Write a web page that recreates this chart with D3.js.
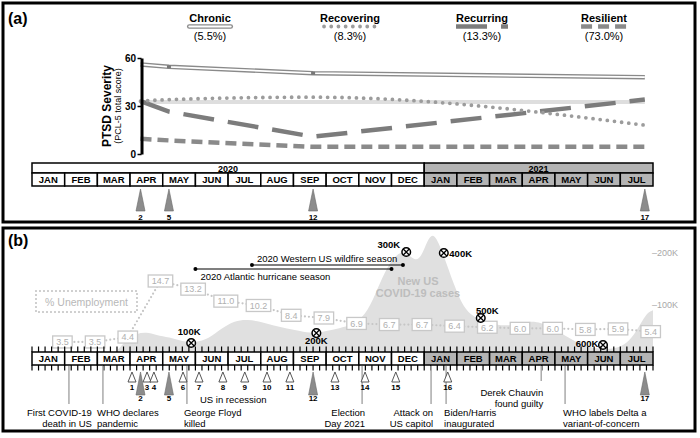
<!DOCTYPE html>
<html><head><meta charset="utf-8">
<script src="https://cdn.jsdelivr.net/npm/d3@7"></script>
<style>
body{margin:0;background:#fff;}
svg{font-family:"Liberation Sans",Arial,Helvetica,sans-serif;}
</style></head><body>
<svg id="c" width="700" height="438"></svg>
<script>
// ---------------- DATA ----------------
const months = ["JAN","FEB","MAR","APR","MAY","JUN","JUL","AUG","SEP","OCT","NOV","DEC","JAN","FEB","MAR","APR","MAY","JUN","JUL"];
const years = ["2020","2021"];
const yearStart = [0, 12];
const yearEnd = [12, 19];
// assessment timing (months since Jan 1 2020), assessments 1..17
const assessmentPos = [3.06,3.32,3.52,3.73,4.19,4.62,5.11,5.84,6.51,7.19,7.89,8.6,9.27,10.19,11.13,12.72,18.75];
const keyAssessments = [2,5,12,17];
// PTSD trajectories (PCL-5) at key assessments 2,5,12,17
const trajNames = ["Chronic","Recovering","Recurring","Resilient"];
const trajPct = ["(5.5%)","(8.3%)","(13.3%)","(73.0%)"];
const chronic = [56,54.5,50.5,48];
const recovering = [33,34,35.5,18];
const recurring = [33,26.5,10.8,34];
const resilient = [9.5,8.5,4.5,4.5];
const cutoff = 32.5;
const yTicks = [0,30,60];
// monthly unemployment %
const unemployment = [3.5,3.5,4.4,14.7,13.2,11.0,10.2,8.4,7.9,6.9,6.7,6.7,6.4,6.2,6.0,6.0,5.8,5.9,5.4];
// new US COVID-19 cases (thousands, 7-day avg) by month index
const casesT = [0,1,2,2.3,2.6,2.9,3.2,3.5,3.8,4.2,4.6,5.0,5.4,5.8,6.2,6.6,7.0,7.4,7.8,8.2,8.6,9.0,9.4,9.8,10.2,10.5,10.8,11.1,11.4,11.7,11.9,12.1,12.3,12.6,12.9,13.2,13.5,13.8,14.2,14.6,15.0,15.4,15.8,16.2,16.6,17.0,17.4,17.8,18.2,18.5,18.8,19];
const casesK = [0,0,0,1,10,35,45,48,42,38,30,28,35,55,70,72,68,60,55,50,45,50,55,62,80,120,165,195,205,185,190,225,242,195,140,95,78,68,62,60,65,70,60,45,30,20,15,15,25,50,85,90];
const caseTicks = [100,200];
// US COVID-19 death milestones
const deathLabels = ["100K","200K","300K","400K","500K","600K"];
const deathT = [4.87,8.7,11.45,12.6,13.73,17.47];
const deathCasesK = [27,46,202,200,75,23];
// events
const eventT = [1.13,2.17,4.74,10.1,12.21,12.67,15.58,16.31];
const eventText = [["First COVID-19","death in US"],["WHO declares","pandemic"],["George Floyd","killed"],["Election","Day 2021"],["Attack on","US capitol"],["Biden/Harris","inaugurated"],["Derek Chauvin","found guilty"],["WHO labels Delta a","variant-of-concern"]];
// seasons
const seasonNames = ["2020 Western US wildfire season","2020 Atlantic hurricane season"];
const seasonStart = [6.73,5.0];
const seasonEnd = [11.35,11.0];

// ---------------- DRAW ----------------
const F = '"Liberation Sans", Arial, Helvetica, sans-serif';
const svg = d3.select("#c");
const x = d3.scaleLinear().domain([0,19]).range([32,653]);
const isY2 = i => i >= 12;
const GRAY21 = "#b4b4b4";

// panel frames
svg.append("rect").attr("x",3).attr("y",3).attr("width",692).attr("height",219)
  .attr("fill","none").attr("stroke","#000").attr("stroke-width",3);
svg.append("rect").attr("x",3).attr("y",228).attr("width",692).attr("height",203)
  .attr("fill","none").attr("stroke","#000").attr("stroke-width",3);
svg.append("text").attr("x",8).attr("y",24).attr("font-size",16).attr("font-weight","bold").text("(a)");
svg.append("text").attr("x",8).attr("y",246).attr("font-size",16).attr("font-weight","bold").text("(b)");

// ===== Panel A =====
const y = d3.scaleLinear().domain([0,60]).range([154,58]);
const keyX = keyAssessments.map(k => x(assessmentPos[k-1]));
const gA = svg.append("g");

gA.append("line").attr("x1",keyX[0]).attr("x2",keyX[3]).attr("y1",y(cutoff)).attr("y2",y(cutoff))
  .attr("stroke","#dedede").attr("stroke-width",4);

const styles = {
  Resilient: {stroke:"#8a8a8a", w:4.5, dash:"11,6", cap:"butt"},
  Recurring: {stroke:"#7c7c7c", w:4.5, dash:"31,14", cap:"butt"},
  Recovering:{stroke:"#9c9c9c", w:3.8, dash:"0,7.2", cap:"round"},
};
const lineGen = d3.line().x((d,i)=>keyX[i]).y(d=>y(d));
const lineCurve = d3.line().x((d,i)=>keyX[i]).y(d=>y(d)).curve(d3.curveMonotoneX);
function styled(sel, s){ return sel.attr("fill","none").attr("stroke",s.stroke).attr("stroke-width",s.w)
  .attr("stroke-dasharray",s.dash).attr("stroke-linecap",s.cap); }
styled(gA.append("path").attr("d",lineGen(resilient)), styles.Resilient);
styled(gA.append("path").attr("d",lineGen(recurring)), styles.Recurring);
styled(gA.append("path").attr("d",lineCurve(recovering)), styles.Recovering);
gA.append("path").attr("d",lineGen(chronic)).attr("fill","none").attr("stroke","#8a8a8a").attr("stroke-width",4.5);
gA.append("path").attr("d",lineGen(chronic)).attr("fill","none").attr("stroke","#fff").attr("stroke-width",1.8);
[1,2].forEach(i=>gA.append("rect").attr("x",keyX[i]-2).attr("y",y(chronic[i])-1.5).attr("width",4).attr("height",3).attr("fill","#777"));

// axis
const ax = gA.append("g").attr("transform",`translate(${keyX[0]+1},0)`)
  .call(d3.axisLeft(y).tickValues(yTicks).tickSize(4).tickSizeOuter(0));
ax.select(".domain").attr("stroke","#000").attr("stroke-width",3);
ax.selectAll(".tick line").attr("stroke","#000").attr("stroke-width",1.5);
ax.selectAll(".tick text").attr("font-family",F).attr("font-weight","bold").attr("font-size",10).attr("fill","#000").attr("x",-5.5);
gA.append("text").attr("transform","translate(111,106) rotate(-90)").attr("text-anchor","middle")
  .attr("font-size",12).attr("font-weight","bold").text("PTSD Severity");
gA.append("text").attr("transform","translate(120.5,106) rotate(-90)").attr("text-anchor","middle")
  .attr("font-size",9).text("(PCL-5 total score)");

// legend
const legX = [210,350,482,604];
trajNames.forEach((n,i)=>{
  const t = gA.append("text").attr("x",legX[i]).attr("y",22).attr("text-anchor","middle")
    .attr("font-size",11).attr("font-weight","bold").text(n);
  const w = t.node().getComputedTextLength();
  gA.append("text").attr("x",legX[i]).attr("y",40).attr("text-anchor","middle").attr("font-size",11).text(trajPct[i]);
  const x0 = legX[i]-w/2, x1 = legX[i]+w/2, yy = 26.5;
  if(n==="Chronic"){
    gA.append("line").attr("x1",x0).attr("x2",x1).attr("y1",yy).attr("y2",yy).attr("stroke","#8a8a8a").attr("stroke-width",4.5).attr("stroke-linecap","round");
    gA.append("line").attr("x1",x0).attr("x2",x1).attr("y1",yy).attr("y2",yy).attr("stroke","#fff").attr("stroke-width",1.8).attr("stroke-linecap","round");
  } else {
    const s = styles[n];
    styled(gA.append("line").attr("x1",x0+(n==="Recovering"?4:0)).attr("x2",x1).attr("y1",yy).attr("y2",yy), s);
  }
});

// timeline drawing
function drawMonths(g, top, h, fs){
  months.forEach((m,i)=>{
    g.append("rect").attr("x",x(i)).attr("y",top).attr("width",x(i+1)-x(i)).attr("height",h)
      .attr("fill",isY2(i)?GRAY21:"#fff").attr("stroke","#000").attr("stroke-width",1.5);
    g.append("text").attr("x",(x(i)+x(i+1))/2).attr("y",top+h/2+3.4).attr("text-anchor","middle")
      .attr("font-size",fs).attr("font-weight","bold").text(m);
  });
}
// panel A timeline
years.forEach((yr,i)=>{
  gA.append("rect").attr("x",x(yearStart[i])).attr("y",163).attr("width",x(yearEnd[i])-x(yearStart[i])).attr("height",10)
    .attr("fill",i?GRAY21:"#fff").attr("stroke","#000").attr("stroke-width",1.5);
  gA.append("text").attr("x",(x(yearStart[i])+x(yearEnd[i]))/2).attr("y",171.5).attr("text-anchor","middle")
    .attr("font-size",9).attr("font-weight","bold").text(yr);
});
drawMonths(gA,173,13,9.5);
function filledArrow(g, cx, tip, base, label, ly){
  g.append("path").attr("d",`M${cx-4.5},${base}L${cx},${tip}L${cx+4.5},${base}Z`)
    .attr("fill","#8c8c8c").attr("stroke","#6a6a6a").attr("stroke-width",0.6);
  g.append("text").attr("x",cx).attr("y",ly).attr("text-anchor","middle").attr("font-size",8).attr("font-weight","bold").text(label);
}
keyAssessments.forEach(k=> filledArrow(gA, x(assessmentPos[k-1]), 189, 211, k, 220));

// ===== Panel B =====
const gB = svg.append("g");
const yc = d3.scaleLinear().domain([0,200]).range([357,253]);
const area = d3.area().x((d,i)=>x(casesT[i])).y0(yc(0)).y1(d=>yc(d)).curve(d3.curveBasis);
gB.append("path").attr("d",area(casesK)).attr("fill","#e0e0e0");
gB.append("text").attr("x",418).attr("y",285).attr("text-anchor","middle").attr("font-size",11).attr("font-weight","bold").attr("fill","#bdbdbd").text("New US");
gB.append("text").attr("x",418).attr("y",297).attr("text-anchor","middle").attr("font-size",11).attr("font-weight","bold").attr("fill","#bdbdbd").text("COVID-19 cases");
caseTicks.forEach(v=>{
  gB.append("text").attr("x",652).attr("y",yc(v)+3).attr("font-size",9).attr("fill","#a8a8a8").text("\u2013"+v+"K");
});

// seasons
const seasonY = [265,269];
seasonNames.forEach((n,i)=>{
  const yy = seasonY[i];
  gB.append("line").attr("x1",x(seasonStart[i])).attr("x2",x(seasonEnd[i])).attr("y1",yy).attr("y2",yy).attr("stroke","#000").attr("stroke-width",1.2);
  [seasonStart[i],seasonEnd[i]].forEach(t=>gB.append("circle").attr("cx",x(t)).attr("cy",yy).attr("r",2).attr("fill","#000"));
});
gB.append("text").attr("x",x(seasonStart[0])+5).attr("y",262).attr("font-size",9.5).text(seasonNames[0]);
gB.append("text").attr("x",x(seasonStart[1])+5).attr("y",280).attr("font-size",9.5).text(seasonNames[1]);

// unemployment
const yu = d3.scaleLinear().domain([0,14.7]).range([361,281]);
const ux = i => x(i+0.93);
gB.append("path").attr("d",d3.line().x((d,i)=>ux(i)).y(d=>yu(d))(unemployment))
  .attr("fill","none").attr("stroke","#c6c6c6").attr("stroke-width",2.2).attr("stroke-dasharray","0,4").attr("stroke-linecap","round");
unemployment.forEach((v,i)=>{
  const t = gB.append("text").attr("x",ux(i)).attr("y",yu(v)+3.3).attr("text-anchor","middle")
    .attr("font-size",9).attr("fill","#b0b0b0").text(v.toFixed(1));
  const w = t.node().getComputedTextLength()+7;
  gB.insert("rect",()=>t.node()).attr("x",ux(i)-w/2).attr("y",yu(v)-6).attr("width",w).attr("height",12)
    .attr("fill","#fff").attr("stroke","#c8c8c8").attr("stroke-width",1.3);
});
gB.append("rect").attr("x",36).attr("y",291).attr("width",101).attr("height",21).attr("fill","none")
  .attr("stroke","#c6c6c6").attr("stroke-width",2.2).attr("stroke-dasharray","0,4").attr("stroke-linecap","round");
gB.append("text").attr("x",86.5).attr("y",305.5).attr("text-anchor","middle").attr("font-size",10.5).attr("fill","#b8b8b8").text("% Unemployment");

// death markers
const dLab = [[-2,-7.5,"middle"],[0,10.5,"middle"],[-6,-4,"end"],[5.5,3.5,"start"],[6.5,-4.5,"middle"],[-4.5,1.5,"end"]];
deathLabels.forEach((l,i)=>{
  const cx = x(deathT[i]), cy = yc(deathCasesK[i]);
  gB.append("circle").attr("cx",cx).attr("cy",cy).attr("r",4.3).attr("fill","#fff").attr("stroke","#000").attr("stroke-width",1.5);
  const r = 3;
  gB.append("path").attr("d",`M${cx-r},${cy-r}L${cx+r},${cy+r}M${cx-r},${cy+r}L${cx+r},${cy-r}`).attr("stroke","#000").attr("stroke-width",1.3);
  gB.append("text").attr("x",cx+dLab[i][0]).attr("y",cy+dLab[i][1]).attr("text-anchor",dLab[i][2])
    .attr("font-size",9.5).attr("font-weight","bold").text(l);
});

// timeline B with ticks
for(let k=0;k<=19*5;k++){
  const xx = x(k/5);
  gB.append("line").attr("x1",xx).attr("x2",xx).attr("y1",346.5).attr("y2",352).attr("stroke","#000").attr("stroke-width",1.2);
  gB.append("line").attr("x1",xx).attr("x2",xx).attr("y1",365).attr("y2",370.5).attr("stroke","#000").attr("stroke-width",1.2);
}
drawMonths(gB,352,13,9.5);

// events
const evLayout = [[23,"end",404],[-6,"start",404],[-3,"start",404],[3,"end",404],[2,"end",404],[-2,"start",404],[2,"end",381],[-2,"start",404]];
eventText.forEach((lines,i)=>{
  const xx = x(eventT[i]);
  const L = evLayout[i];
  gB.append("line").attr("x1",xx).attr("x2",xx).attr("y1",366).attr("y2",L[2]).attr("stroke","#aaa").attr("stroke-width",1.5);
  const y1 = i===6 ? 396 : 416;
  lines.forEach((s,j)=> gB.append("text").attr("x",xx+L[0]).attr("y",y1+j*10.5).attr("text-anchor",L[1]).attr("font-size",9.5).text(s));
});
gB.append("text").attr("x",200).attr("y",403).attr("font-size",9.5).text("US in recession");

// assessment arrows B
assessmentPos.forEach((p,i)=>{
  const k = i+1, cx = x(p);
  if(keyAssessments.includes(k)){
    filledArrow(gB, cx, 372, 395, k, 400.5);
  } else {
    gB.append("path").attr("d",`M${cx-4},382L${cx},372L${cx+4},382Z`).attr("fill","#fff").attr("stroke","#444").attr("stroke-width",0.9);
    gB.append("text").attr("x",cx).attr("y",390).attr("text-anchor","middle").attr("font-size",8).attr("font-weight","bold").text(k);
  }
});
</script>
</body></html>
